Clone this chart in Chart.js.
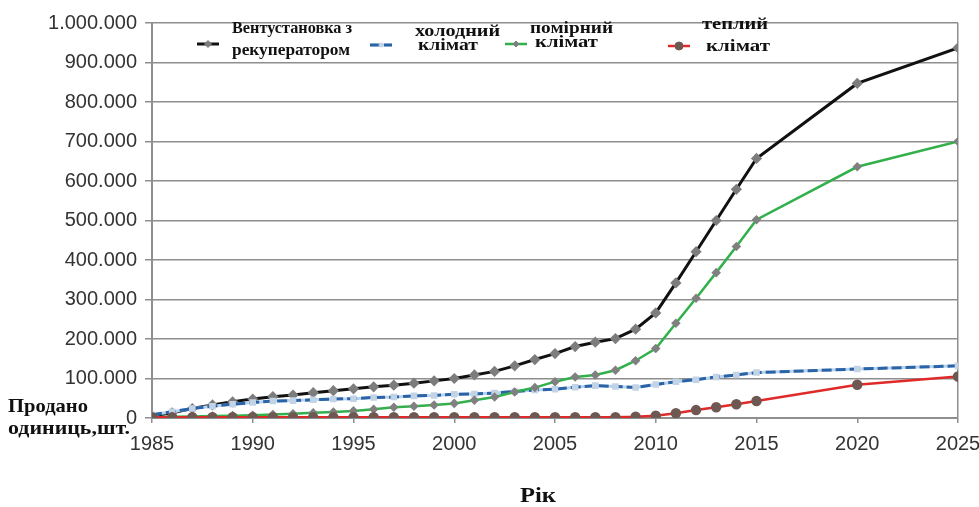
<!DOCTYPE html>
<html>
<head>
<meta charset="utf-8">
<script src="https://cdn.jsdelivr.net/npm/chart.js@4/dist/chart.umd.min.js"></script>
<style>
  html, body { margin: 0; padding: 0; background: #ffffff; }
  #wrap { position: relative; width: 979px; height: 507px; }
  canvas { display: block; }
</style>
</head>
<body>
<div id="wrap"><canvas id="c" width="979" height="507"></canvas></div>
<script>
// Years on the horizontal axis (annual to 2015, then 5-year steps)
const years = [1985, 1986, 1987, 1988, 1989, 1990, 1991, 1992, 1993, 1994,
               1995, 1996, 1997, 1998, 1999, 2000, 2001, 2002, 2003, 2004,
               2005, 2006, 2007, 2008, 2009, 2010, 2011, 2012, 2013, 2014,
               2015, 2020, 2025];

// Units sold per year
const totalUnits = [5000, 13000, 24000, 33000, 41000, 48000, 54000, 58000, 64000, 69000,
                    74000, 79000, 83000, 88000, 94000, 100000, 109000, 118000, 132000, 148000,
                    163000, 181000, 192000, 201000, 225000, 266000, 342000, 421000, 500000, 579000,
                    657000, 847000, 937000];
const coldClimate = [8000, 16000, 24000, 30000, 35000, 39000, 43000, 44000, 46000, 48000,
                     49000, 52000, 53000, 56000, 57000, 60000, 61000, 63000, 67000, 71000,
                     73000, 78000, 82000, 80000, 77000, 85000, 92000, 97000, 104000, 109000,
                     115000, 124000, 132000];
const temperateClimate = [2000, 3000, 4000, 5000, 6000, 7000, 9000, 11000, 13000, 15000,
                          18000, 22000, 27000, 30000, 33000, 37000, 45000, 53000, 66000, 77000,
                          92000, 104000, 109000, 121000, 145000, 176000, 240000, 303000, 368000, 434000,
                          502000, 636000, 700000];
const warmClimate = [2000, 2000, 2000, 2000, 2000, 2000, 2000, 2000, 2000, 2000,
                     2000, 2000, 2000, 2000, 2000, 2000, 2000, 2000, 2000, 2000,
                     2000, 2000, 2000, 2000, 3000, 6000, 12000, 20000, 27000, 35000,
                     43000, 84000, 105000];

// Series names (two-line legend entries)
const seriesNames = [
  ['Вентустановка з', 'рекуператором'],
  ['холодний', 'клімат'],
  ['помірний', 'клімат'],
  ['теплий', 'клімат']
];

// Axis tick labels
const xTickLabels = [1985, 1990, 1995, 2000, 2005, 2010, 2015, 2020, 2025];
const yTickLabels = ['0', '100.000', '200.000', '300.000', '400.000', '500.000',
                     '600.000', '700.000', '800.000', '900.000', '1.000.000'];

const yAxisTitle = ['Продано', 'одиниць,шт.'];
const xAxisTitle = 'Рік';

const toPoints = vals => years.map((y, i) => ({ x: y, y: vals[i] }));

const GRID = '#8e8e8e';
const SERIF = '"Liberation Serif", "Times New Roman", serif';
const SANS = '"Liberation Sans", Arial, sans-serif';
const UNDERLAY = '#b9d3ee';

// Draws a text line squeezed or widened to a given width
function fitText(ctx, text, x, y, width) {
  const w = ctx.measureText(text).width;
  ctx.save();
  ctx.translate(x, y);
  ctx.scale(width / w, 1);
  ctx.fillText(text, 0, 0);
  ctx.restore();
}

// Light underlay beneath the dashed blue line
const underlayPlugin = {
  id: 'underlay',
  beforeDatasetDraw(chart, args) {
    if (args.index !== 1) return;
    const pts = args.meta.data;
    const ctx = chart.ctx;
    ctx.save();
    ctx.strokeStyle = UNDERLAY;
    ctx.lineWidth = 3;
    ctx.lineJoin = 'round';
    ctx.beginPath();
    pts.forEach((p, i) => i ? ctx.lineTo(p.x, p.y) : ctx.moveTo(p.x, p.y));
    ctx.stroke();
    ctx.restore();
  }
};

// Legend samples and labels, plus free-standing axis captions
const captionPlugin = {
  id: 'captions',
  afterDatasetsDraw(chart) {
    const ctx = chart.ctx;
    const ds = chart.data.datasets;
    ctx.save();

    // [x, baseline, width] for each label line
    const entries = [
      { sx: 208, sy: 44, lines: [[232, 33, 120], [232, 55, 118]] },
      { sx: 381, sy: 45, lines: [[415, 36, 85], [418, 50, 60]] },
      { sx: 516, sy: 44, lines: [[530, 33, 83], [535, 47, 63]] },
      { sx: 679, sy: 46, lines: [[702, 29, 66], [706, 51, 64]] }
    ];
    entries.forEach((e, i) => {
      const d = ds[i];
      ctx.save();
      if (i === 1) {
        ctx.strokeStyle = UNDERLAY;
        ctx.lineWidth = d.borderWidth;
        ctx.beginPath(); ctx.moveTo(e.sx - 11, e.sy); ctx.lineTo(e.sx + 11, e.sy); ctx.stroke();
      }
      ctx.strokeStyle = d.borderColor;
      ctx.lineWidth = d.borderWidth;
      ctx.setLineDash(d.borderDash || []);
      ctx.beginPath(); ctx.moveTo(e.sx - 11, e.sy); ctx.lineTo(e.sx + 11, e.sy); ctx.stroke();
      ctx.setLineDash([]);
      ctx.fillStyle = d.pointBackgroundColor;
      ctx.strokeStyle = d.pointBorderColor;
      ctx.lineWidth = 1;
      Chart.helpers.drawPoint(ctx, { pointStyle: d.pointStyle, radius: d.pointRadius, rotation: 0, borderWidth: 1 }, e.sx, e.sy);
      ctx.restore();

      ctx.fillStyle = '#111111';
      ctx.font = 'bold 17px ' + SERIF;
      ctx.textBaseline = 'alphabetic';
      ctx.textAlign = 'left';
      seriesNames[i].forEach((t, k) => fitText(ctx, t, e.lines[k][0], e.lines[k][1], e.lines[k][2]));
    });

    // vertical-axis caption at the lower left
    ctx.fillStyle = '#111111';
    ctx.textAlign = 'left';
    ctx.font = 'bold 19px ' + SERIF;
    fitText(ctx, yAxisTitle[0], 8, 412, 80);
    fitText(ctx, yAxisTitle[1], 8, 434, 122);

    // horizontal-axis caption
    ctx.font = 'bold 22px ' + SERIF;
    fitText(ctx, xAxisTitle, 520, 502, 36);
    ctx.restore();
  }
};

new Chart(document.getElementById('c'), {
  type: 'line',
  data: {
    datasets: [
      {
        label: seriesNames[0].join(' '),
        data: toPoints(totalUnits),
        borderColor: '#111111', borderWidth: 3,
        pointStyle: 'rectRot', pointRadius: 3.5,
        pointBackgroundColor: '#7d7d7d', pointBorderColor: '#7d7d7d',
        order: 4
      },
      {
        label: seriesNames[1].join(' '),
        data: toPoints(coldClimate),
        borderColor: '#2a64a6', borderWidth: 3, borderDash: [10, 4],
        pointStyle: 'rect', pointRadius: 2.5,
        pointBackgroundColor: '#c3d3e6', pointBorderColor: '#c3d3e6',
        order: 3
      },
      {
        label: seriesNames[2].join(' '),
        data: toPoints(temperateClimate),
        borderColor: '#31b04b', borderWidth: 2.5,
        pointStyle: 'rectRot', pointRadius: 3,
        pointBackgroundColor: '#808080', pointBorderColor: '#808080',
        order: 2
      },
      {
        label: seriesNames[3].join(' '),
        data: toPoints(warmClimate),
        borderColor: '#e02a2a', borderWidth: 2.5,
        pointStyle: 'circle', pointRadius: 4,
        pointBackgroundColor: '#6f5852', pointBorderColor: '#6f5852',
        order: 1
      }
    ]
  },
  options: {
    responsive: false,
    animation: false,
    devicePixelRatio: 1,
    layout: { padding: { left: 0, right: 0, top: 23, bottom: 0 } },
    plugins: { legend: { display: false }, tooltip: { enabled: false } },
    elements: { line: { tension: 0 } },
    scales: {
      x: {
        type: 'linear', min: 1985, max: 2025,
        afterFit(s) { s.height = 89; s.paddingLeft = 0; s.paddingRight = 21; },
        afterBuildTicks(s) { s.ticks = xTickLabels.map(v => ({ value: v })); },
        ticks: {
          callback: v => String(v),
          autoSkip: false, maxRotation: 0, padding: 9,
          color: '#333333',
          font: { family: SANS, size: 20 }
        },
        grid: {
          color: c => (c.tick && c.tick.value === 2025) ? GRID : 'rgba(0,0,0,0)',
          tickColor: GRID, tickLength: 5, lineWidth: 1.5
        },
        border: { color: GRID, width: 2 }
      },
      y: {
        min: 0, max: 1000000,
        afterFit(s) { s.width = 152; },
        afterBuildTicks(s) { s.ticks = yTickLabels.map((t, i) => ({ value: i * 100000 })); },
        ticks: {
          callback: (v, i) => yTickLabels[i],
          padding: 8, color: '#333333',
          font: { family: SANS, size: 20 }
        },
        grid: { color: GRID, tickColor: GRID, tickLength: 7, lineWidth: 1.5 },
        border: { color: GRID, width: 2 }
      }
    }
  },
  plugins: [underlayPlugin, captionPlugin]
});
</script>
</body>
</html>
